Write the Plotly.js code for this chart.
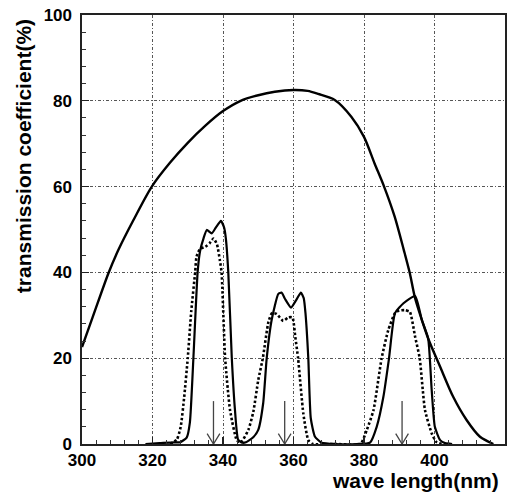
<!DOCTYPE html>
<html><head><meta charset="utf-8">
<script src="https://cdn.plot.ly/plotly-3.0.1.min.js"></script>
<style>html,body{margin:0;padding:0;background:#fff}</style>
</head><body><div id="chart" style="width:517px;height:500px"></div>
<script>
// Envelope (broad) transmission curve
const envelopeWavelength = [300, 303, 307.5, 310.3, 314.6, 319.8, 325, 330, 335, 340, 345, 350, 354.7, 360, 364, 367, 371.7, 376.4, 380, 383, 385.7, 388.7, 391.3, 393, 394.4, 396.3, 398.2, 401.6, 405.3, 409.1, 412.9, 416.7];
const envelopeTransmission = [22.6, 29.5, 39.8, 45.2, 52.2, 60, 65.6, 70.2, 74.2, 77.6, 80, 81.3, 82.1, 82.5, 82.3, 81.6, 80.2, 76.3, 71.6, 65.4, 60, 53, 45.2, 39.8, 34.3, 29.2, 24.6, 18, 11, 5.6, 1.7, 0];

// Solid filter curve (three pass bands)
const solidWavelength = [318, 322, 326, 327.8, 329.7, 330.6, 331.6, 332.8, 333.5, 334.5, 335.4, 336.8, 338, 339.4, 340.3, 340.8, 341.5, 342.5, 343.4, 344.3, 345.5, 346.5, 348.5, 350, 351.4, 352.4, 353.8, 355.7, 356.6, 357.6, 359.3, 360.8, 362.1, 362.9, 363.4, 364.2, 364.9, 366.1, 368, 372, 378, 381.7, 383.6, 385.5, 387.1, 388.8, 391.2, 394.5, 396.4, 398.2, 399.2, 400.1, 401.6, 403, 405];
const solidTransmission = [0, 0.2, 0.4, 0.4, 1.5, 5, 20, 40, 45, 48, 49.9, 49.1, 50.5, 52, 50.5, 48, 40, 20, 7.9, 1, 0.3, 0.4, 1.5, 3.3, 9.5, 20, 28.9, 35, 35.3, 33.8, 31.8, 33.6, 35.3, 34, 30.5, 20, 6, 1.7, 0.3, 0, 0, 0.3, 4, 11, 20, 30.5, 32.8, 34.5, 28.9, 24.6, 12.6, 4, 0.9, 0.2, 0];

// Dotted filter curve (three pass bands)
const dottedWavelength = [325, 326.9, 328, 329, 330, 331, 332.1, 332.5, 333.5, 335, 336.2, 337.3, 338.3, 339.1, 339.6, 340.6, 342, 343.9, 345, 347.2, 348.6, 350, 351.3, 352.9, 353.9, 355.2, 357.1, 358.5, 359.7, 360.5, 361.3, 362.8, 364.2, 365.5, 372, 379, 380.8, 382.7, 385, 386.9, 388.8, 390, 391.6, 393, 394.5, 395.8, 397.3, 399.2, 400.5, 402];
const dottedTransmission = [0, 1, 4, 11, 20, 31, 40, 43.7, 45.5, 46, 46.8, 47.9, 46.5, 42.9, 40, 20, 7.9, 0.9, 0.3, 3.3, 7.5, 14.9, 20, 28.5, 30.5, 30.3, 28.7, 29.5, 29.5, 25, 20, 7, 0.9, 0, 0, 0, 3.3, 7.9, 20, 26.6, 30.5, 31.1, 31.2, 30.8, 25, 20, 7.9, 2.5, 0.5, 0];

// Arrows marking the pass-band centres
const arrowWavelengths = [337.3, 357.5, 390.8];
const arrowTop = 10;

const xTicks = [300, 320, 340, 360, 380, 400, 420];
const yTicks = [0, 20, 40, 60, 80, 100];

const headHalfWidth = 1.8, headHeight = 2.4;
const arrowX = [], arrowY = [];
arrowWavelengths.forEach(w => {
  arrowX.push(w, w, null, w - headHalfWidth, w, w + headHalfWidth, null);
  arrowY.push(arrowTop, 0, null, headHeight, 0, headHeight, null);
});

const traces = [
  {x: arrowX, y: arrowY, mode: 'lines', line: {color: '#444', width: 1.3}, hoverinfo: 'skip', showlegend: false},
  {x: envelopeWavelength, y: envelopeTransmission, mode: 'lines', line: {color: '#000', width: 2.4, shape: 'spline', smoothing: 0.8}, showlegend: false},
  {x: solidWavelength, y: solidTransmission, mode: 'lines', line: {color: '#000', width: 2.2, shape: 'spline', smoothing: 0.5}, showlegend: false},
  {x: dottedWavelength, y: dottedTransmission, mode: 'lines', line: {color: '#000', width: 2.6, dash: '2.5px,2.2px', shape: 'spline', smoothing: 0.5}, showlegend: false}
];

const tickFont = {family: 'Liberation Sans, Arial, sans-serif', size: 17, color: '#000', weight: 'bold'};
const titleFont = {family: 'Liberation Sans, Arial, sans-serif', size: 21, color: '#000', weight: 'bold'};

const gridStyle = {showgrid: true, gridcolor: '#444', gridwidth: 0.9, griddash: '3px,2px,1px,2px'};

const layout = {
  width: 517, height: 500,
  margin: {l: 82, r: 12, t: 15, b: 56},
  paper_bgcolor: '#fff', plot_bgcolor: '#fff',
  showlegend: false,
  xaxis: Object.assign({
    range: [300, 420], tickvals: xTicks, ticktext: xTicks.map(String),
    ticks: 'inside', ticklen: 7, tickwidth: 1.2, tickcolor: '#222',
    minor: {dtick: 4, tick0: 300, ticks: 'inside', ticklen: 4, tickwidth: 1, tickcolor: '#333', showgrid: false},
    showline: true, linecolor: '#222', linewidth: 1.6, mirror: true,
    zeroline: false, tickfont: tickFont
  }, gridStyle),
  yaxis: Object.assign({
    range: [0, 100], tickvals: yTicks, ticktext: yTicks.map(String),
    ticks: 'inside', ticklen: 7, tickwidth: 1.2, tickcolor: '#222',
    minor: {dtick: 4, tick0: 0, ticks: 'inside', ticklen: 4, tickwidth: 1, tickcolor: '#333', showgrid: false},
    showline: true, linecolor: '#222', linewidth: 1.6, mirror: true,
    zeroline: false, tickfont: tickFont, ticklabelstandoff: 5
  }, gridStyle),
  annotations: [
    {text: 'wave length(nm)', xref: 'paper', yref: 'paper', x: 0.9905, y: -0.085, xanchor: 'right', yanchor: 'middle', showarrow: false, font: titleFont},
    {text: 'transmission coefficient(%)', xref: 'paper', yref: 'paper', x: -0.1395, y: 0.995, xanchor: 'center', yanchor: 'top', textangle: -90, showarrow: false, font: titleFont}
  ]
};

Plotly.newPlot('chart', traces, layout, {displayModeBar: false, staticPlot: true});
</script>
</body></html>
